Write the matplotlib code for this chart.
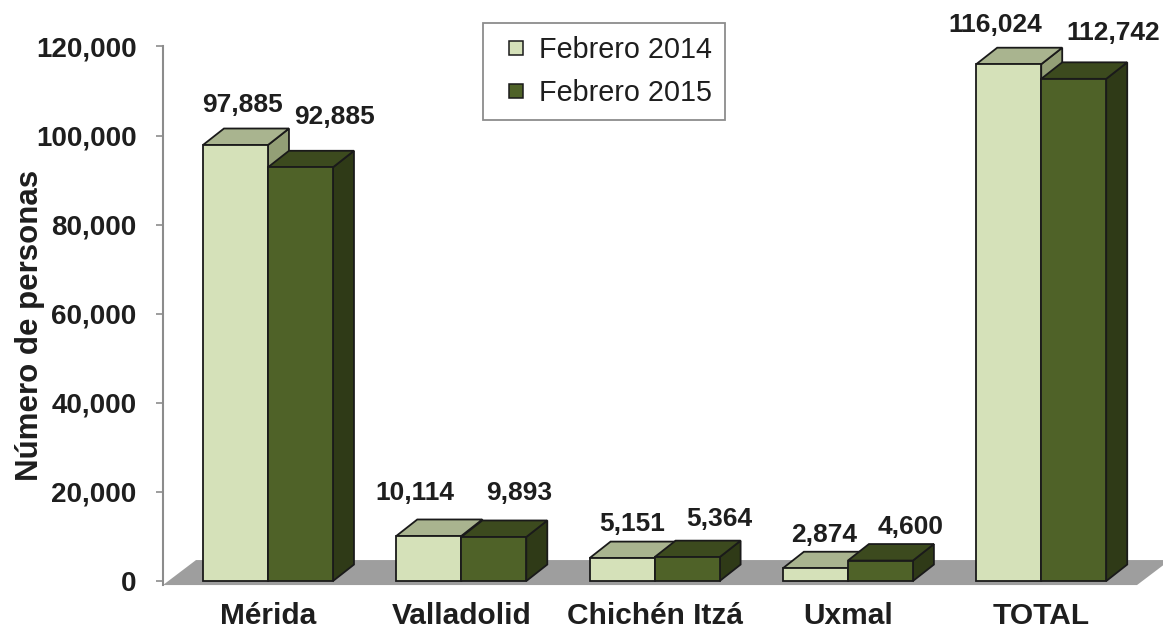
"""Visitantes por destino, febrero 2014 vs febrero 2015 (barras estilo 3D)."""

import matplotlib as mpl
import matplotlib.pyplot as plt
from matplotlib.patches import Polygon
from matplotlib.lines import Line2D
from matplotlib.ticker import FuncFormatter

mpl.rcParams.update({
    "font.family": ["Liberation Sans", "DejaVu Sans"],
    "text.color": "#1E1E1E",
    "xtick.color": "#1E1E1E",
    "ytick.color": "#1E1E1E",
    "figure.facecolor": "white",
    "axes.facecolor": "none",
})

# === Data ===
categories = ["Mérida", "Valladolid", "Chichén Itzá", "Uxmal", "TOTAL"]
feb_2014 = [97885, 10114, 5151, 2874, 116024]
feb_2015 = [92885, 9893, 5364, 4600, 112742]
series_names = ["Febrero 2014", "Febrero 2015"]
y_ticks = [0, 20000, 40000, 60000, 80000, 100000, 120000]

# label nudges (px) relative to the back edge of each bar's top face
nudge_2014 = [(-3, 24), (-24, 26), (0, 18), (-2, 17), (-24, 23)]
nudge_2015 = [(24, 34), (15, 27), (22, 22), (20, 17), (29, 29)]

# colours: front, top, side
COL_2014 = ("#D5E1B9", "#A9B48F", "#939F76")
COL_2015 = ("#4F6228", "#3C4A1E", "#2F3A17")
EDGE = "#1A1A1A"
FLOOR = "#9E9E9E"
AXIS_GRAY = "#8C8C8C"

# === Geometry (pixels -> data units) ===
W, H = 1163, 633
PX_X = 193.3            # px per category
PX_Y = 0.004454         # px per person
BAR_W = 65 / PX_X
DX = 21 / PX_X          # bar depth, x
DY = 16.5 / PX_Y        # bar depth, y
FLOOR_DX = 33 / PX_X
FLOOR_FRONT = -900
FLOOR_BACK = FLOOR_FRONT + 25 / PX_Y
X_LEFT = -0.543
FLOOR_RIGHT = (1137 - 268) / PX_X

fig = plt.figure(figsize=(W / 100, H / 100), dpi=100)
ax = fig.add_axes([163 / W, 1 - 585.5 / H, 1 - 163 / W, 539 / H])
ax.set_xlim(X_LEFT, 4.63)
ax.set_ylim(-1000, 120000)

# floor
ax.add_patch(Polygon([(X_LEFT, FLOOR_FRONT), (FLOOR_RIGHT, FLOOR_FRONT),
                      (FLOOR_RIGHT + FLOOR_DX, FLOOR_BACK), (X_LEFT + FLOOR_DX, FLOOR_BACK)],
                     closed=True, fc=FLOOR, ec="none", zorder=1, clip_on=False))


def bar3d(x0, v, cols):
    x1 = x0 + BAR_W
    front = [(x0, 0), (x1, 0), (x1, v), (x0, v)]
    top = [(x0, v), (x1, v), (x1 + DX, v + DY), (x0 + DX, v + DY)]
    side = [(x1, 0), (x1 + DX, DY), (x1 + DX, v + DY), (x1, v)]
    for pts, c in ((side, cols[2]), (top, cols[1]), (front, cols[0])):
        ax.add_patch(Polygon(pts, closed=True, fc=c, ec=EDGE, lw=1.3,
                             joinstyle="miter", zorder=3, clip_on=False))


for i in range(len(categories)):
    for x0, v, cols, (nx, ny) in ((i - BAR_W, feb_2014[i], COL_2014, nudge_2014[i]),
                                  (i, feb_2015[i], COL_2015, nudge_2015[i])):
        bar3d(x0, v, cols)
        ax.annotate(f"{v:,}", xy=(x0 + BAR_W / 2 + DX / 2, v + DY),
                    xytext=(nx * 0.72, ny * 0.72), textcoords="offset points",
                    ha="center", va="center", fontsize=19, fontweight="bold",
                    annotation_clip=False, zorder=5)

# axes styling
for s in ("top", "right", "bottom"):
    ax.spines[s].set_visible(False)
ax.spines["left"].set_color(AXIS_GRAY)
ax.spines["left"].set_linewidth(1.5)
ax.spines["left"].set_bounds(FLOOR_FRONT, 120000)
ax.set_yticks(y_ticks)
ax.yaxis.set_major_formatter(FuncFormatter(lambda v, _: f"{int(v):,}"))
ax.tick_params(axis="y", length=5, width=1.2, color=AXIS_GRAY, pad=14, labelsize=20)
ax.set_xticks(range(len(categories)))
ax.set_xticklabels(categories)
ax.tick_params(axis="x", length=0, pad=12, labelsize=21.5)
for lab in ax.get_xticklabels() + ax.get_yticklabels():
    lab.set_fontweight("bold")

fig.text(30 / W, 1 - 325 / H, "Número de personas", rotation=90, ha="center",
         va="center", fontsize=22.5, fontweight="bold")

handles = [Line2D([], [], ls="none", marker="s", ms=9.5, mfc=c[0], mec=EDGE, mew=1.1)
           for c in (COL_2014, COL_2015)]
leg = fig.legend(handles, series_names, loc="upper left", bbox_to_anchor=(483 / W, 1 - 23 / H),
                 borderaxespad=0, fontsize=20.7, handlelength=1.4,
                 handletextpad=0.1, borderpad=0.45, labelspacing=0.52,
                 fancybox=False, edgecolor="#8C8C8C", framealpha=1)
leg.get_frame().set_linewidth(1.3)

fig.savefig("out.png", dpi=100)
